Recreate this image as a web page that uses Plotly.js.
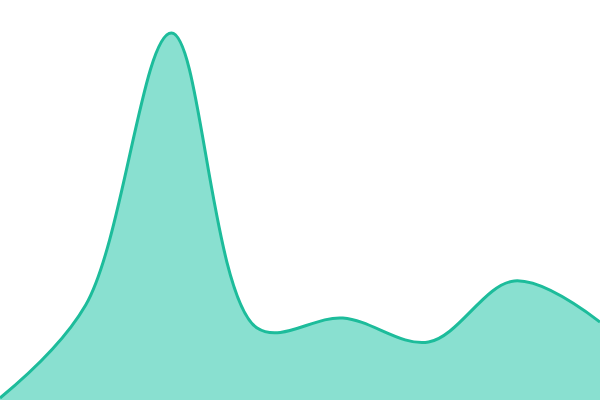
<!DOCTYPE html>
<html><head><meta charset="utf-8">
<script src="https://cdn.plot.ly/plotly-3.0.1.min.js"></script>
<style>html,body{margin:0;padding:0;background:#fff}#chart{width:600px;height:400px}</style>
</head><body><div id="chart"></div>
<script>
const xs = [0, 1, 2, 3, 4, 5, 6, 7];
const values = [2, 95, 367, 72, 82, 58, 119, 78];
Plotly.newPlot('chart', [{
  x: xs, y: values, type: 'scatter', mode: 'lines',
  line: {shape: 'spline', smoothing: 1, color: '#1dbc9b', width: 3},
  fill: 'tozeroy', fillcolor: '#89e0d0', hoverinfo: 'none'
}], {
  width: 600, height: 400,
  margin: {l: 0, r: 0, t: 0, b: 0},
  paper_bgcolor: '#fff', plot_bgcolor: '#fff',
  showlegend: false,
  xaxis: {range: [0, 7], visible: false, fixedrange: true},
  yaxis: {range: [0, 400], visible: false, fixedrange: true}
}, {staticPlot: true});
</script></body></html>
